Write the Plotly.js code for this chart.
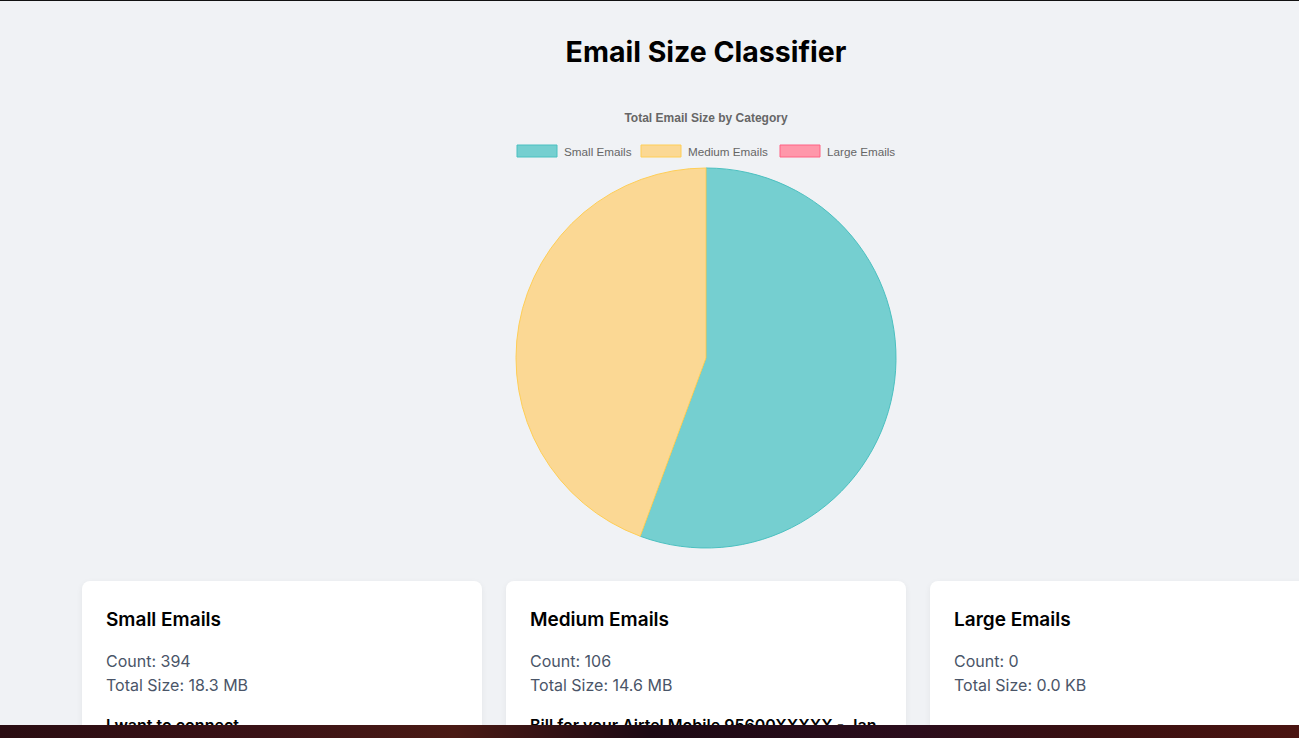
<!DOCTYPE html>
<html>
<head>
<meta charset="utf-8">
<script src="https://cdn.plot.ly/plotly-3.0.1.min.js"></script>
<style>
  html, body { margin:0; padding:0; width:1299px; height:738px; overflow:hidden; background:#f0f2f5; font-family: Inter, "Noto Sans", "Liberation Sans", sans-serif; }
  #topline { position:absolute; left:0; top:0; width:1299px; height:1px; background:#111; z-index:10; }
  #title { position:absolute; left:0; width:1412px; top:32px; text-align:center; font-size:28.5px; font-weight:700; color:#000; line-height:40px; margin:0; }
  #chart { position:absolute; left:406px; top:100px; width:600px; height:460px; }
  .card { position:absolute; top:581px; width:352px; height:200px; background:#fff; border-radius:8px; padding:24px; box-shadow:0 2px 6px rgba(0,0,0,0.06); }
  .card h3 { margin:3px 0 17px 0; font-size:19px; line-height:24px; font-weight:600; color:#000; }
  .card p { margin:0; font-size:16px; line-height:24px; color:#4a5568; }
  .card .subj { margin-top:16px; font-size:16px; line-height:24px; font-weight:600; color:#000; white-space:nowrap; }
  #bottom { position:absolute; left:0; top:725px; width:1299px; height:13px; z-index:10;
    background: linear-gradient(90deg, #2a0d12 0%, #3a1216 20%, #4a1a14 35%, #1d0a14 50%, #2b0d1c 70%, #3b1010 85%, #4a1411 100%); }
</style>
</head>
<body>
<div id="topline"></div>
<h1 id="title">Email Size Classifier</h1>
<div id="chart"></div>
<div id="cards"></div>
<div id="bottom"></div>
<script>
const categories = ['Small Emails', 'Medium Emails', 'Large Emails'];
const totalSizeMB = [18.3, 14.6, 0];
const counts = [394, 106, 0];
const sizeLabels = ['18.3 MB', '14.6 MB', '0.0 KB'];
const sampleSubjects = ['I want to connect', 'Bill for your Airtel Mobile 95600XXXXX - Jan', ''];
const fillColors = ['#75cfd0', '#fbd894', '#ff97aa'];
const borderColors = ['#4bc0c0', '#ffce56', '#ff6384'];

// layout constants (pixel positions inside the chart div)
const W = 600, H = 460;
const legendBoxX = [111, 235, 374];
const legendY = 51;

const trace = {
  type: 'pie',
  labels: categories,
  values: totalSizeMB,
  sort: false,
  direction: 'clockwise',
  rotation: 0,
  textinfo: 'none',
  hoverinfo: 'label+value',
  showlegend: false,
  marker: { colors: fillColors, line: { color: borderColors, width: totalSizeMB.map(v => v > 0 ? 1 : 0) } },
  domain: { x: [110 / W, 490 / W], y: [12 / H, 392 / H] }
};

const shapes = [], annotations = [];
categories.forEach((c, i) => {
  const x0 = legendBoxX[i];
  shapes.push({ type: 'rect', xref: 'paper', yref: 'paper',
    x0: x0 / W, x1: (x0 + 40) / W, y0: 1 - (legendY + 6) / H, y1: 1 - (legendY - 6) / H,
    fillcolor: fillColors[i], line: { color: borderColors[i], width: 1 } });
  annotations.push({ xref: 'paper', yref: 'paper', x: (x0 + 45) / W, y: 1 - legendY / H,
    xanchor: 'left', yanchor: 'middle', showarrow: false, text: c,
    font: { family: 'Liberation Sans, Arial, sans-serif', size: 11.7, color: '#666' } });
});

const layout = {
  width: W, height: H,
  margin: { l: 0, r: 0, t: 0, b: 0 },
  paper_bgcolor: 'rgba(0,0,0,0)',
  plot_bgcolor: 'rgba(0,0,0,0)',
  title: { text: '<b>Total Email Size by Category</b>', x: 0.5, xanchor: 'center', yref: 'container', y: 1 - 18 / H, yanchor: 'middle',
    font: { family: 'Liberation Sans, Arial, sans-serif', size: 12, color: '#666' } },
  shapes: shapes,
  annotations: annotations
};

Plotly.newPlot('chart', [trace], layout, { displayModeBar: false });

const cardsEl = document.getElementById('cards');
categories.forEach((c, i) => {
  const d = document.createElement('div');
  d.className = 'card';
  d.style.left = (82 + i * 424) + 'px';
  d.innerHTML = '<h3>' + c + '</h3><p>Count: ' + counts[i] + '</p><p>Total Size: ' + sizeLabels[i] + '</p>' +
    (sampleSubjects[i] ? '<div class="subj">' + sampleSubjects[i] + '</div>' : '');
  cardsEl.appendChild(d);
});
</script>
</body>
</html>
